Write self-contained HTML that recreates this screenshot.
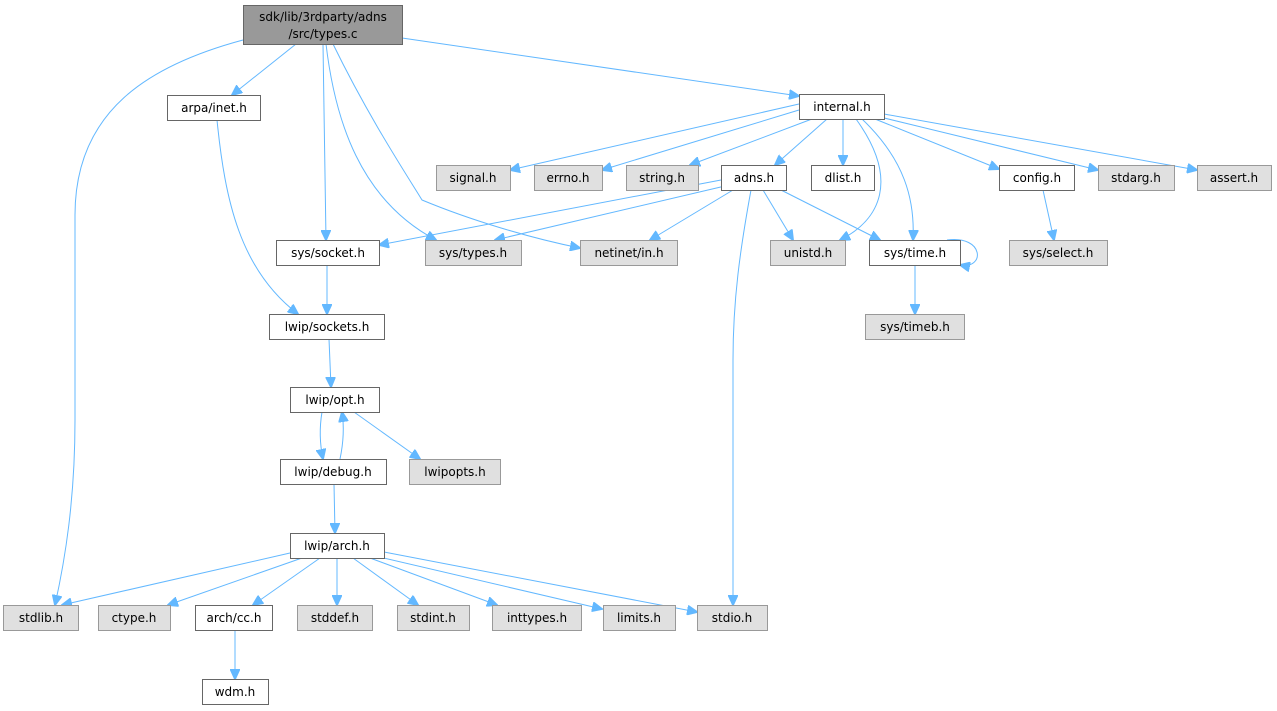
<!DOCTYPE html>
<html><head><meta charset="utf-8"><style>
html,body{margin:0;padding:0;background:#fff;}
svg{display:block;}
text{font-family:"DejaVu Sans","Liberation Sans",sans-serif;font-size:12px;fill:#000;}
.w{fill:#fff;stroke:#666;stroke-width:1;}
.g{fill:#e0e0e0;stroke:#999;stroke-width:1;}
.r{fill:#999;stroke:#666;stroke-width:1;}
path{fill:none;stroke:#63b8ff;stroke-width:1;}
</style></head><body>
<svg width="1277" height="711" viewBox="0 0 1277 711" xmlns="http://www.w3.org/2000/svg">
<defs><marker id="a" markerWidth="11" markerHeight="10" refX="10" refY="5" orient="auto" markerUnits="userSpaceOnUse"><path d="M0,0 L11,5 L0,10 Z" style="fill:#63b8ff;stroke:#63b8ff"/></marker></defs>
<g marker-end="url(#a)">
<path d="M243,40 C150,65 75,110 75,215 L75,420 C75,500 65,560 55,605"/>
<path d="M296,44 L232,95"/>
<path d="M323,44 L326,240"/>
<path d="M326,44 C335,120 360,200 436,240"/>
<path d="M333,44 C370,120 410,180 422,200 C470,220 530,238 580,248"/>
<path d="M402,38 L799,96"/>
<path d="M217,120 C225,200 240,270 298,314"/>
<path d="M327,265 L327,314"/>
<path d="M329,339 L331,387"/>
<path d="M322,412 C319,430 320,445 323,459"/>
<path d="M340,459 C344,440 344,425 342,412"/>
<path d="M354,412 L420,459"/>
<path d="M334,484 L335,533"/>
<path d="M290,553 L62,605"/>
<path d="M302,558 L168,605"/>
<path d="M320,558 L253,605"/>
<path d="M337,558 L337,605"/>
<path d="M353,558 L418,605"/>
<path d="M370,558 L497,605"/>
<path d="M375,556 L602,609"/>
<path d="M384,552 L697,612"/>
<path d="M235,630 L235,679"/>
<path d="M799,104 L510,170"/>
<path d="M799,110 L602,170"/>
<path d="M812,119 L690,165"/>
<path d="M827,119 L775,165"/>
<path d="M843,119 L843,165"/>
<path d="M856,119 C900,180 880,220 840,240"/>
<path d="M862,119 C905,160 915,200 913,240"/>
<path d="M875,119 L999,169"/>
<path d="M880,117 L1098,170"/>
<path d="M884,114 L1197,170"/>
<path d="M721,180 L379,245"/>
<path d="M725,186 L495,240"/>
<path d="M733,190 L650,240"/>
<path d="M763,190 L793,240"/>
<path d="M781,190 L880,240"/>
<path d="M751,190 C740,250 733,300 733,360 L733,605"/>
<path d="M947,240 C985,235 985,270 960,265"/>
<path d="M1043,190 L1054,240"/>
<path d="M915,265 L915,314"/>
</g>
<rect class="r" x="243.5" y="5.5" width="159" height="39"/>
<text x="323" y="21" text-anchor="middle">sdk/lib/3rdparty/adns</text>
<text x="323" y="38" text-anchor="middle">/src/types.c</text>
<g text-anchor="middle">
<rect class="w" x="167.5" y="95.5" width="93" height="25"/><text x="214" y="112">arpa/inet.h</text>
<rect class="w" x="799.5" y="94.5" width="85" height="25"/><text x="842" y="111">internal.h</text>
<rect class="g" x="436.5" y="165.5" width="74" height="25"/><text x="473" y="182">signal.h</text>
<rect class="g" x="534.5" y="165.5" width="68" height="25"/><text x="568" y="182">errno.h</text>
<rect class="g" x="626.5" y="165.5" width="72" height="25"/><text x="662" y="182">string.h</text>
<rect class="w" x="721.5" y="165.5" width="65" height="25"/><text x="754" y="182">adns.h</text>
<rect class="w" x="811.5" y="165.5" width="63" height="25"/><text x="843" y="182">dlist.h</text>
<rect class="w" x="999.5" y="165.5" width="75" height="25"/><text x="1037" y="182">config.h</text>
<rect class="g" x="1098.5" y="165.5" width="76" height="25"/><text x="1136" y="182">stdarg.h</text>
<rect class="g" x="1197.5" y="165.5" width="74" height="25"/><text x="1234" y="182">assert.h</text>
<rect class="w" x="276.5" y="240.5" width="103" height="25"/><text x="328" y="257">sys/socket.h</text>
<rect class="g" x="425.5" y="240.5" width="96" height="25"/><text x="473" y="257">sys/types.h</text>
<rect class="g" x="580.5" y="240.5" width="97" height="25"/><text x="629" y="257">netinet/in.h</text>
<rect class="g" x="770.5" y="240.5" width="75" height="25"/><text x="808" y="257">unistd.h</text>
<rect class="w" x="869.5" y="240.5" width="91" height="25"/><text x="915" y="257">sys/time.h</text>
<rect class="g" x="1009.5" y="240.5" width="98" height="25"/><text x="1058" y="257">sys/select.h</text>
<rect class="g" x="865.5" y="314.5" width="99" height="25"/><text x="915" y="331">sys/timeb.h</text>
<rect class="w" x="269.5" y="314.5" width="115" height="25"/><text x="327" y="331">lwip/sockets.h</text>
<rect class="w" x="290.5" y="387.5" width="89" height="25"/><text x="335" y="404">lwip/opt.h</text>
<rect class="w" x="280.5" y="459.5" width="106" height="25"/><text x="333" y="476">lwip/debug.h</text>
<rect class="g" x="409.5" y="459.5" width="91" height="25"/><text x="455" y="476">lwipopts.h</text>
<rect class="w" x="290.5" y="533.5" width="94" height="25"/><text x="337" y="550">lwip/arch.h</text>
<rect class="g" x="3.5" y="605.5" width="75" height="25"/><text x="41" y="622">stdlib.h</text>
<rect class="g" x="98.5" y="605.5" width="72" height="25"/><text x="134" y="622">ctype.h</text>
<rect class="w" x="195.5" y="605.5" width="77" height="25"/><text x="234" y="622">arch/cc.h</text>
<rect class="g" x="297.5" y="605.5" width="75" height="25"/><text x="335" y="622">stddef.h</text>
<rect class="g" x="397.5" y="605.5" width="72" height="25"/><text x="433" y="622">stdint.h</text>
<rect class="g" x="492.5" y="605.5" width="89" height="25"/><text x="537" y="622">inttypes.h</text>
<rect class="g" x="603.5" y="605.5" width="72" height="25"/><text x="639" y="622">limits.h</text>
<rect class="g" x="697.5" y="605.5" width="70" height="25"/><text x="732" y="622">stdio.h</text>
<rect class="w" x="202.5" y="679.5" width="66" height="25"/><text x="235" y="696">wdm.h</text>
</g>
</svg>
</body></html>
